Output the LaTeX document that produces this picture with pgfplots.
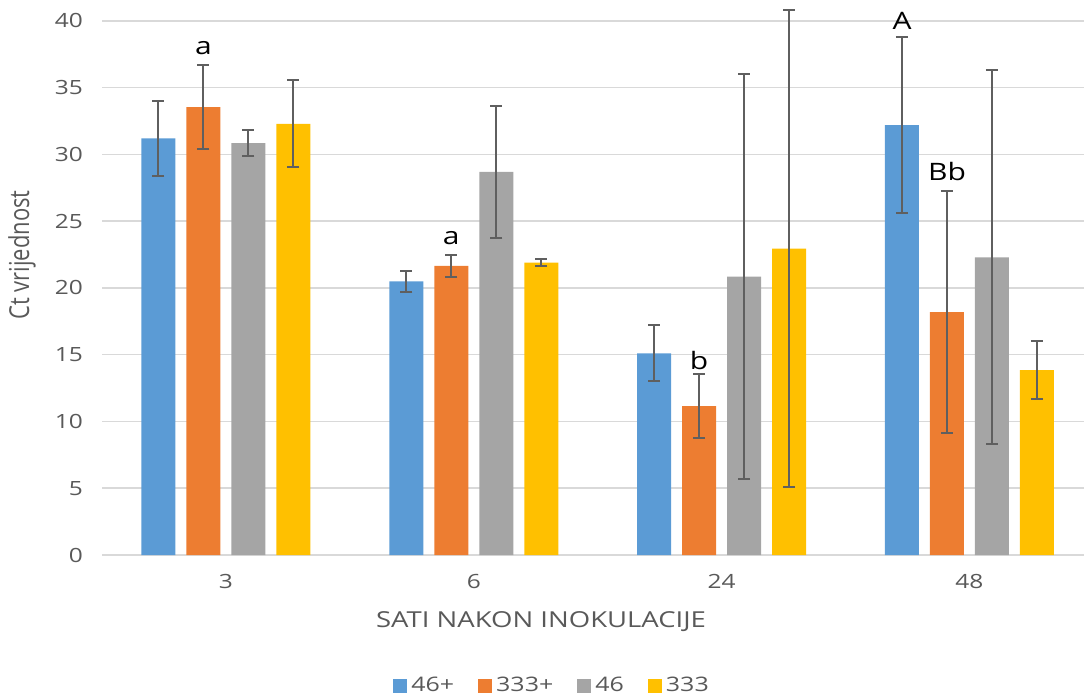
\documentclass[border=0pt]{standalone}
\usepackage{fontspec}
\setmainfont{Open Sans}[FakeStretch=1.25]
\newfontfamily\plainfont{Open Sans}
\usepackage{pgfplots}
\pgfplotsset{compat=1.18}
\definecolor{cblue}{HTML}{5B9BD5}
\definecolor{corange}{HTML}{ED7D31}
\definecolor{cgray}{HTML}{A5A5A5}
\definecolor{cyellow}{HTML}{FFC000}
\definecolor{textgray}{HTML}{595959}
\definecolor{gridgray}{HTML}{D9D9D9}
\definecolor{errgray}{HTML}{5F5F5F}
\begin{document}
\begin{tikzpicture}
\path[use as bounding box] (-51pt,-71pt) rectangle (491pt,277.5pt);
\begin{axis}[
  at={(0,0)}, anchor=south west,
  scale only axis, width=491pt, height=277.5pt,
  ybar=5.5pt, bar width=17pt,
  xmin=-0.5, xmax=3.462, ymin=0, ymax=41.57,
  xtick={0,1,2,3}, xticklabels={3,6,24,48},
  ytick={0,5,...,40},
  ymajorgrids, grid style={line width=0.75pt, color=gridgray},
  axis line style={draw=none},
  major tick length=0pt,
  /pgf/number format/assume math mode=true,
  tick label style={font=\fontsize{9.8}{11}\selectfont, text=textgray},
  yticklabel style={xshift=-6pt},
  xticklabel style={yshift=-6pt},
  legend columns=4,
  legend style={at={(0.4593,-0.236)}, anchor=center, draw=none, fill=none,
    font=\fontsize{10}{12}\selectfont, text=textgray,
    /tikz/every even column/.append style={column sep=10pt}},
  legend image code/.code={\fill[#1] (0pt,-3.5pt) rectangle (7pt,3.5pt);},
  error bars/error bar style={line width=1pt, color=errgray},
  error bars/error mark options={line width=1pt, mark size=3pt, color=errgray, rotate=90},
  clip=false,
]
\addplot[fill=cblue, draw=none, error bars/.cd, y dir=both, y explicit]
  coordinates {(0,31.2) +- (0,2.8) (1,20.5) +- (0,0.8) (2,15.1) +- (0,2.1) (3,32.2) +- (0,6.6)};
\addplot[fill=corange, draw=none, error bars/.cd, y dir=both, y explicit]
  coordinates {(0,33.55) +- (0,3.15) (1,21.65) +- (0,0.85) (2,11.15) +- (0,2.4) (3,18.2) +- (0,9.07)};
\addplot[fill=cgray, draw=none, error bars/.cd, y dir=both, y explicit]
  coordinates {(0,30.85) +- (0,1.0) (1,28.7) +- (0,4.95) (2,20.85) +- (0,15.15) (3,22.3) +- (0,14.0)};
\addplot[fill=cyellow, draw=none, error bars/.cd, y dir=both, y explicit]
  coordinates {(0,32.3) +- (0,3.25) (1,21.9) +- (0,0.25) (2,22.95) +- (0,17.85) (3,13.85) +- (0,2.2)};
\legend{46+,333+,46,333}
\node[font=\fontsize{12}{14}\selectfont, xshift=-11.25pt] at (axis cs:0,38.0) {a};
\node[font=\fontsize{12}{14}\selectfont, xshift=-11.25pt] at (axis cs:1,23.7) {a};
\node[font=\fontsize{12}{14}\selectfont, xshift=-11.25pt] at (axis cs:2,14.6) {b};
\node[font=\fontsize{12}{14}\selectfont, xshift=-33.75pt] at (axis cs:3,40.0) {A};
\node[font=\fontsize{12}{14}\selectfont, xshift=-11.25pt] at (axis cs:3,28.7) {Bb};
\end{axis}
\node[font=\fontsize{11}{13}\selectfont, text=textgray] at (219.5pt,-33.5pt) {SATI NAKON INOKULACIJE};
\node[font=\plainfont\fontsize{11}{13}\selectfont, text=textgray, rotate=90, yscale=1.25] at (-40pt,150pt) {Ct vrijednost};
\end{tikzpicture}
\end{document}
